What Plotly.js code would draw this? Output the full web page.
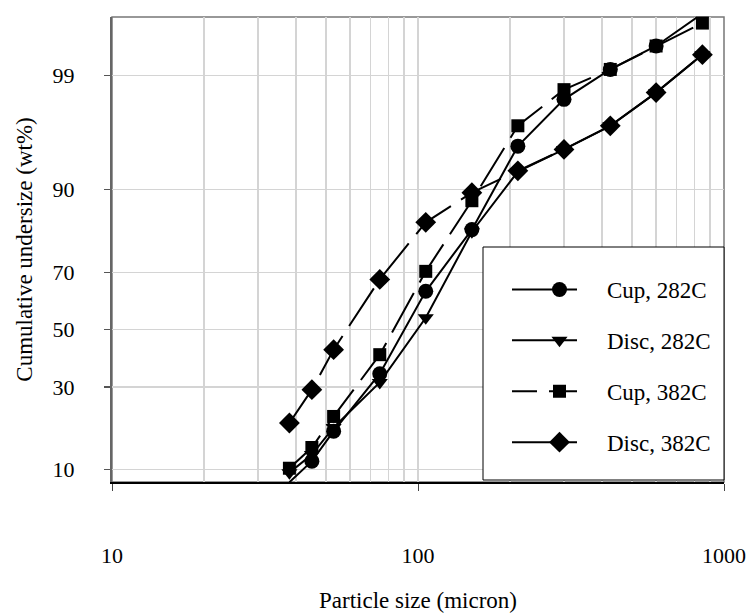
<!DOCTYPE html>
<html>
<head>
<meta charset="utf-8">
<script src="https://cdn.plot.ly/plotly-3.0.1.min.js"></script>
<style>html,body{margin:0;padding:0;background:#fff;}#chart{width:750px;height:613px;}</style>
</head>
<body>
<div id="chart"></div>
<script>
// Sieve sizes (micron)
const sizes = [38, 45, 53, 75, 106, 150, 212, 300, 425, 600, 850];
// Cumulative undersize (wt%)
const cup282  = [8.1, 11.4, 17.6, 34.3, 63.7, 82.0, 95.35, 98.25, 99.14, 99.53, 99.81];
const disc282 = [9.5, 12.6, 18.5, 31.4, 54.3, 81.5, 92.6, 95.05, 96.9, 98.5, 99.41];
const cup382  = [10.2, 14.0, 21.3, 40.9, 70.3, 88.1, 96.9, 98.6, 99.14, 99.53, 99.75];
const disc382 = [19.6, 29.1, 42.7, 67.7, 83.7, 89.5, 92.7, 95.05, 96.9, 98.5, 99.41];
const seriesNames = ["Cup, 282C", "Disc, 282C", "Cup, 382C", "Disc, 382C"];
const yTickPct = [10, 30, 50, 70, 90, 99];
const xTicks = [10, 100, 1000];
const xMinor = [20,30,40,50,60,70,80,90,200,300,400,500,600,700,800,900];
const yRangePct = [8.13, 99.79];

// inverse standard normal CDF (probability-scale axis)
function probit(p) {
  const a=[-3.969683028665376e+01,2.209460984245205e+02,-2.759285104469687e+02,1.383577518672690e+02,-3.066479806614716e+01,2.506628277459239e+00];
  const b=[-5.447609879822406e+01,1.615858368580409e+02,-1.556989798598866e+02,6.680131188771972e+01,-1.328068155288572e+01];
  const c=[-7.784894002430293e-03,-3.223964580411365e-01,-2.400758277161838e+00,-2.549732539343734e+00,4.374664141464968e+00,2.938163982698783e+00];
  const d=[7.784695709041462e-03,3.224671290700398e-01,2.445134137142996e+00,3.754408661907416e+00];
  const pl=0.02425, ph=1-pl; let q,r;
  if (p<pl){q=Math.sqrt(-2*Math.log(p));return (((((c[0]*q+c[1])*q+c[2])*q+c[3])*q+c[4])*q+c[5])/((((d[0]*q+d[1])*q+d[2])*q+d[3])*q+1);}
  if (p<=ph){q=p-0.5;r=q*q;return (((((a[0]*r+a[1])*r+a[2])*r+a[3])*r+a[4])*r+a[5])*q/(((((b[0]*r+b[1])*r+b[2])*r+b[3])*r+b[4])*r+1);}
  q=Math.sqrt(-2*Math.log(1-p));return -(((((c[0]*q+c[1])*q+c[2])*q+c[3])*q+c[4])*q+c[5])/((((d[0]*q+d[1])*q+d[2])*q+d[3])*q+1);
}
const z = arr => arr.map(v => probit(v/100));

const F = "Liberation Serif, Times New Roman, serif";
const series = [cup282, disc282, cup382, disc382];
const symbols = ["circle", "triangle-down", "square", "diamond"];
const msize = [15, 14, 13, 16];
const dashes = ["solid", "solid", "45px,12px", "45px,12px"];

const traces = series.map((s, i) => ({
  x: sizes, y: z(s), name: seriesNames[i], type: "scatter", mode: "lines+markers",
  legendgroup: "g" + i,
  line: {color: "#000", width: 2, dash: dashes[i]},
  marker: {symbol: symbols[i], size: msize[i], color: "#000"},
  cliponaxis: false
}));

const layout = {
  width: 750, height: 613,
  margin: {l: 112, r: 26, t: 17, b: 131},
  paper_bgcolor: "#fff", plot_bgcolor: "#fff",
  font: {family: F, size: 22, color: "#000"},
  showlegend: true,
  legend: {
    x: (512 - 112) / 612, xanchor: "left", y: (482 - 268) / 465, yanchor: "top",
    bgcolor: "rgba(0,0,0,0)", borderwidth: 0,
    font: {family: F, size: 23, color: "#000"},
    traceorder: "grouped", tracegroupgap: 18, itemwidth: 85
  },
  xaxis: {
    type: "log", range: [1, 3],
    tickvals: xTicks, ticktext: xTicks.map(String),
    ticks: "outside", ticklen: 7, tickcolor: "#444", tickwidth: 1,
    ticklabelstandoff: 46,
    showgrid: true, gridcolor: "#d4d4d4", gridwidth: 1.5,
    minor: {tickvals: xMinor, showgrid: true, gridcolor: "#d4d4d4", gridwidth: 1.5, ticks: ""},
    showline: true, linecolor: "#000", linewidth: 1.5, mirror: false,
    zeroline: false,
    title: {text: "Particle size (micron)", font: {family: F, size: 23}, standoff: 27},
    tickfont: {family: F, size: 22}
  },
  yaxis: {
    range: [probit(yRangePct[0]/100), probit(yRangePct[1]/100)],
    tickvals: z(yTickPct), ticktext: yTickPct.map(String),
    ticks: "outside", ticklen: 6, tickcolor: "#555", tickwidth: 1.5,
    ticklabelstandoff: 25,
    showgrid: true, gridcolor: "#d4d4d4", gridwidth: 1.5,
    showline: true, linecolor: "#666", linewidth: 2,
    zeroline: false,
    title: {text: "Cumulative undersize (wt%)", font: {family: F, size: 23}, standoff: 14},
    tickfont: {family: F, size: 22}
  },
  shapes: [
    {type: "rect", xref: "paper", yref: "paper", x0: 0, x1: 1, y0: 0, y1: 1, line: {color: "#777", width: 1.5}, layer: "below"},
    // legend frame
    {type: "rect", xref: "paper", yref: "paper", x0: (483 - 112) / 612, x1: 1, y0: (482 - 480) / 465, y1: (482 - 247) / 465,
     line: {color: "#000", width: 1}, fillcolor: "#fff", layer: "above"}
  ]
};

Plotly.newPlot("chart", traces, layout, {displayModeBar: false, staticPlot: true}).then(gd => {
  // lengthen legend sample lines like the original
  gd.querySelectorAll(".legend .legendlines path").forEach((p, i) => {
    p.setAttribute("d", "M-20,0h85");
    if (i === 3) p.style.strokeDasharray = "none";
  });
});
</script>
</body>
</html>
